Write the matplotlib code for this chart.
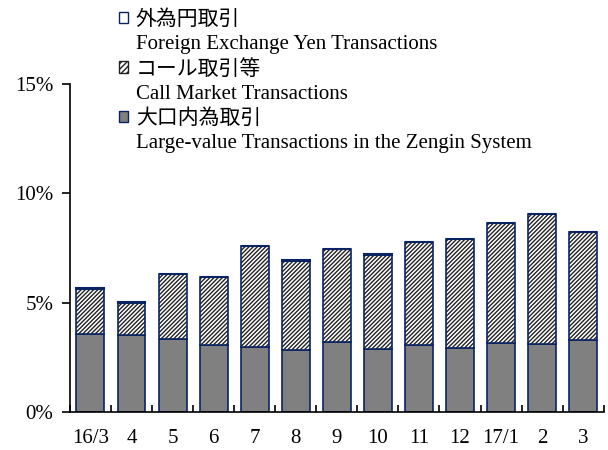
import matplotlib.pyplot as plt
from matplotlib.patches import Patch
from matplotlib.ticker import FixedLocator

plt.rcParams['font.family'] = ['Liberation Serif', 'Noto Sans CJK JP']

months = ["16/3", "4", "5", "6", "7", "8", "9", "10", "11", "12", "17/1", "2", "3"]
# shares in percent
large_value = [3.59, 3.50, 3.35, 3.06, 2.99, 2.85, 3.18, 2.89, 3.08, 2.92, 3.17, 3.09, 3.30]
call_market = [2.04, 1.49, 2.96, 3.10, 4.58, 4.07, 4.27, 4.30, 4.69, 4.98, 5.46, 5.95, 4.92]
fx_yen = [0.02, 0.02, 0.02, 0.02, 0.02, 0.02, 0.02, 0.02, 0.02, 0.02, 0.02, 0.02, 0.02]

labels = ["外為円取引", "Foreign Exchange Yen Transactions",
          "コール取引等", "Call Market Transactions",
          "大口内為取引", "Large-value Transactions in the Zengin System"]

navy = "#0a2463"
x = range(len(months))
w = 0.68
bottom2 = [a + b for a, b in zip(large_value, call_market)]

fig = plt.figure(figsize=(6.08, 4.5), dpi=100)
ax = fig.add_axes([0.115, 0.0844, 0.878, 0.7289])

ax.bar(x, large_value, w, color="#808080", edgecolor=navy, linewidth=1.2)
ax.bar(x, call_market, w, bottom=large_value, color="white", edgecolor="#222222",
       hatch="////////", linewidth=0)
ax.bar(x, call_market, w, bottom=large_value, fill=False, edgecolor=navy, linewidth=1.2)
ax.bar(x, fx_yen, w, bottom=bottom2, color="white", edgecolor=navy, linewidth=1.5)

ax.set_xlim(-0.5, len(months) - 0.5)
ax.set_ylim(0, 15)
ax.set_yticks([0, 5, 10, 15])
ax.set_yticklabels(["0%", "5%", "10%", "15%"], fontsize=15)
ax.set_xticks(list(x))
ax.set_xticklabels(months, fontsize=15)
ax.xaxis.set_minor_locator(FixedLocator([i + 0.5 for i in range(-1, len(months))]))
ax.tick_params(axis="x", which="major", length=0, pad=12)
ax.tick_params(axis="x", which="minor", direction="in", length=5, width=1.2)
ax.tick_params(axis="y", direction="out", length=6, width=1.2, pad=6)
ax.spines["top"].set_visible(False)
ax.spines["right"].set_visible(False)
ax.spines["left"].set_linewidth(1.2)
ax.spines["bottom"].set_linewidth(1.2)

handles = [Patch(facecolor="white", edgecolor=navy),
           Patch(visible=False),
           Patch(facecolor="white", edgecolor="#222222", hatch="//////"),
           Patch(visible=False),
           Patch(facecolor="#808080", edgecolor=navy),
           Patch(visible=False)]
fig.legend(handles, labels, loc="upper left", bbox_to_anchor=(0.182, 0.995),
           frameon=False, fontsize=15, handlelength=0.45, handleheight=0.45,
           handletextpad=0.35, labelspacing=0.25, borderaxespad=0)

fig.savefig("out.png")
